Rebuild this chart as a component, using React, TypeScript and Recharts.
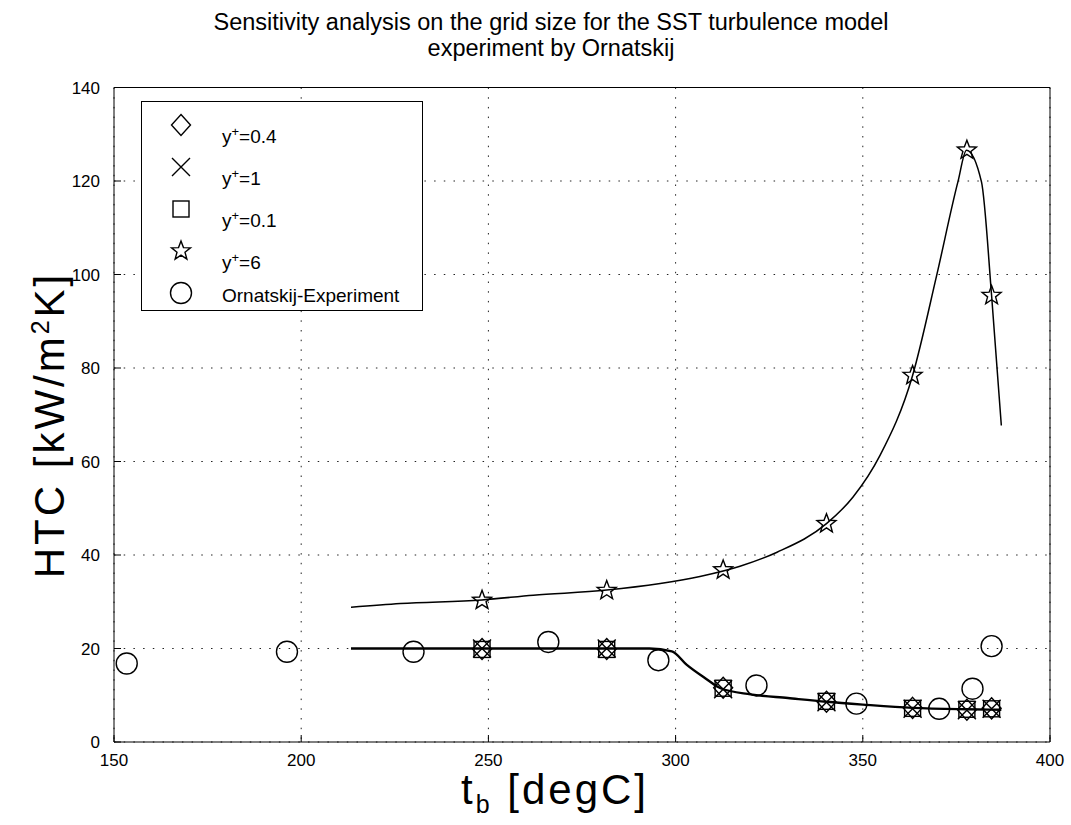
import React from 'react';
import { ComposedChart, Line, Scatter, XAxis, YAxis, CartesianGrid, Legend } from 'recharts';

// axis ticks
const xTicks = [150, 200, 250, 300, 350, 400];
const yTicks = [0, 20, 40, 60, 80, 100, 120, 140];

// CFD results (same bulk temperatures for every grid)
const cfdTemp = [248.3, 281.6, 312.7, 340.3, 363.3, 377.8, 384.4];
const htcYp04 = [19.9, 19.9, 11.6, 8.6, 7.3, 6.9, 7.2];
const htcYp1 = [20.0, 20.0, 11.3, 8.5, 7.1, 6.8, 7.1];
const htcYp01 = [19.8, 19.8, 11.5, 8.7, 7.2, 7.0, 7.1];
const htcYp6 = [30.3, 32.4, 36.8, 46.7, 78.4, 126.6, 95.5];

// experiment
const expTemp = [153.4, 196.2, 230.0, 266.0, 295.4, 321.6, 348.3, 370.4, 379.3, 384.4];
const expHtc = [16.8, 19.3, 19.3, 21.4, 17.5, 12.1, 8.2, 7.1, 11.4, 20.5];

// fitted curves
const fitHighTemp = [213.3, 226.5, 248.3, 262, 281.6, 306.5, 317.2, 327.1, 340.3, 347.4, 354.6, 363.3, 369.7, 375.4, 377.7, 381.7, 384.4, 387.0];
const fitHighHtc = [28.8, 29.6, 30.4, 31.4, 32.5, 35.4, 37.6, 40.6, 46.7, 52.4, 61.3, 78.4, 99.7, 119.8, 126.6, 119.8, 95.5, 67.7];
const fitLowTemp = [213.3, 250, 282, 293, 299, 303, 308, 312, 320, 330, 340.3, 350, 363.3, 377.8, 387];
const fitLowHtc = [20, 20, 20, 20, 19.4, 16.5, 13.6, 11.5, 10.2, 9.4, 8.6, 8.0, 7.3, 7.0, 6.9];

const pts = (xs: number[], ys: number[]) => xs.map((x, i) => ({ x, y: ys[i] }));

const FONT = '"Liberation Sans", Arial, Helvetica, sans-serif';

const Diamond = ({ cx, cy }: any) => (
  <path d={`M${cx},${cy - 10.5}L${cx + 9.5},${cy}L${cx},${cy + 10.5}L${cx - 9.5},${cy}Z`} fill="none" stroke="#000" strokeWidth={1.4} />
);
const Cross = ({ cx, cy }: any) => (
  <path d={`M${cx - 9},${cy - 9}L${cx + 9},${cy + 9}M${cx - 9},${cy + 9}L${cx + 9},${cy - 9}`} fill="none" stroke="#000" strokeWidth={1.4} />
);
const Square = ({ cx, cy }: any) => (
  <rect x={cx - 8} y={cy - 8} width={16} height={16} fill="none" stroke="#000" strokeWidth={1.4} />
);
const Star = ({ cx, cy }: any) => {
  const p: string[] = [];
  for (let i = 0; i < 10; i++) {
    const r = i % 2 === 0 ? 10 : 4.2;
    const a = -Math.PI / 2 + (i * Math.PI) / 5;
    p.push(`${cx + r * Math.cos(a)},${cy + r * Math.sin(a)}`);
  }
  return <polygon points={p.join(' ')} fill="none" stroke="#000" strokeWidth={1.4} />;
};
const Ring = ({ cx, cy }: any) => (
  <circle cx={cx} cy={cy} r={10.5} fill="none" stroke="#000" strokeWidth={1.4} />
);

const series = [
  { key: 'yp04', label: '0.4', data: pts(cfdTemp, htcYp04), Marker: Diamond },
  { key: 'yp1', label: '1', data: pts(cfdTemp, htcYp1), Marker: Cross },
  { key: 'yp01', label: '0.1', data: pts(cfdTemp, htcYp01), Marker: Square },
  { key: 'yp6', label: '6', data: pts(cfdTemp, htcYp6), Marker: Star },
  { key: 'exp', label: 'Ornatskij-Experiment', data: pts(expTemp, expHtc), Marker: Ring },
];

const LegendBox = () => (
  <div style={{ position: 'relative', width: 282, height: 210, border: '1.5px solid #000', background: '#fff', boxSizing: 'border-box', fontFamily: FONT }}>
    {series.map((s, i) => (
      <div key={s.key} style={{ position: 'absolute', left: 0, top: i * 42, width: 280, height: 42 }}>
        <svg width={60} height={42} style={{ position: 'absolute', left: 0, top: 0 }}>
          <s.Marker cx={39} cy={23} />
        </svg>
        <div style={{ position: 'absolute', left: 80, top: s.key === 'exp' ? 15 : 19, fontSize: 19, lineHeight: '22px', whiteSpace: 'nowrap', color: '#000' }}>
          {s.key === 'exp' ? s.label : (<span>y<sup style={{ fontSize: 13 }}>+</sup>={s.label}</span>)}
        </div>
      </div>
    ))}
  </div>
);

export default function App() {
  return (
    <div style={{ position: 'absolute', left: 0, top: 0, width: 1071, height: 825, background: '#fff', fontFamily: FONT }}>
      <div style={{ position: 'absolute', left: 101, top: 9, width: 900, textAlign: 'center', fontSize: 23.5, lineHeight: '26px', color: '#000', whiteSpace: 'nowrap' }}>
        Sensitivity analysis on the grid size for the SST turbulence model<br />experiment by Ornatskij
      </div>
      <ComposedChart width={1071} height={825} margin={{ top: 86.5, right: 20, bottom: 53, left: 54 }}>
        <CartesianGrid stroke="#222" strokeDasharray="1.5 8.2" strokeWidth={1} />
        <XAxis dataKey="x" type="number" domain={[150, 400]} ticks={xTicks} interval={0} height={30}
          tickSize={-7} tickMargin={19} stroke="#000" tick={{ fill: '#000', fontSize: 17, fontFamily: FONT }} />
        <XAxis xAxisId="top" orientation="top" type="number" domain={[150, 400]} ticks={xTicks} interval={0}
          height={1} tickSize={-7} tick={false} stroke="#000" />
        <YAxis dataKey="y" type="number" domain={[0, 140]} ticks={yTicks} interval={0} width={60}
          tickSize={-7} tickMargin={21} stroke="#000" tick={{ fill: '#000', fontSize: 17, fontFamily: FONT }} />
        <YAxis yAxisId="right" orientation="right" type="number" domain={[0, 140]} ticks={yTicks} interval={0}
          width={1} tickSize={-7} tick={false} stroke="#000" />
        <Legend layout="vertical" align="center" verticalAlign="middle" content={() => <LegendBox />}
          wrapperStyle={{ position: 'absolute', left: 141, top: 101, width: 282, height: 210 }} />
        <Line data={pts(fitLowTemp, fitLowHtc)} dataKey="y" type="monotone" dot={false} stroke="#000"
          strokeWidth={2.4} isAnimationActive={false} legendType="none" />
        <Line data={pts(fitHighTemp, fitHighHtc)} dataKey="y" type="monotone" dot={false} stroke="#000"
          strokeWidth={1.5} isAnimationActive={false} legendType="none" />
        {series.map((s) => (
          <Scatter key={s.key} name={s.key} data={s.data} dataKey="y" isAnimationActive={false}
            shape={(p: any) => <s.Marker cx={p.cx} cy={p.cy} />} />
        ))}
      </ComposedChart>
      <div style={{ position: 'absolute', left: 355, top: 767, width: 400, textAlign: 'center', fontSize: 42, lineHeight: '46px', letterSpacing: 3, color: '#000', whiteSpace: 'nowrap' }}>
        t<sub style={{ fontSize: 25 }}>b</sub> [degC]
      </div>
      <div style={{ position: 'absolute', left: 45, top: 425, transform: 'translate(-50%, -50%) rotate(-90deg)', fontSize: 42, lineHeight: '46px', letterSpacing: 3, color: '#000', whiteSpace: 'nowrap' }}>
        HTC [kW/m<sup style={{ fontSize: 25 }}>2</sup>K]
      </div>
    </div>
  );
}
